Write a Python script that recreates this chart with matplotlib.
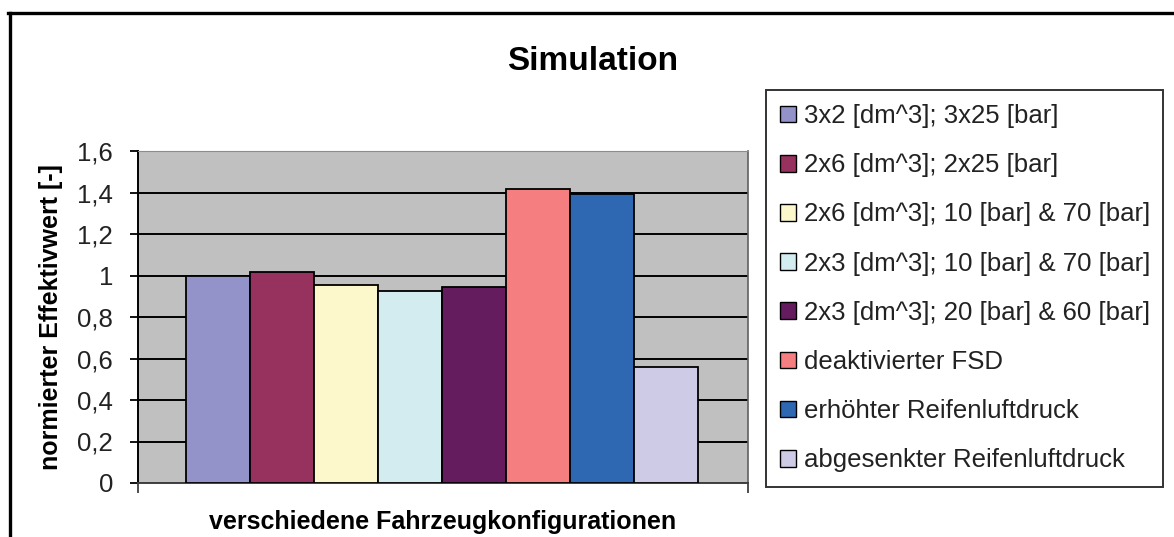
import matplotlib
matplotlib.use("Agg")
import matplotlib.pyplot as plt
from matplotlib.lines import Line2D
from matplotlib.patches import Patch

plt.rcParams['font.family'] = ['Liberation Sans', 'DejaVu Sans']

configs = [
    "3x2 [dm^3]; 3x25 [bar]",
    "2x6 [dm^3]; 2x25 [bar]",
    "2x6 [dm^3]; 10 [bar] & 70 [bar]",
    "2x3 [dm^3]; 10 [bar] & 70 [bar]",
    "2x3 [dm^3]; 20 [bar] & 60 [bar]",
    "deaktivierter FSD",
    "erhöhter Reifenluftdruck",
    "abgesenkter Reifenluftdruck",
]
effektivwert = [1.0, 1.016, 0.956, 0.924, 0.944, 1.419, 1.392, 0.559]
bar_colours = ['#9393C9', '#97325F', '#FCF8CC', '#D2ECF0',
               '#651C5E', '#F57F80', '#2E67B2', '#CECBE6']
y_ticks = [0, 0.2, 0.4, 0.6, 0.8, 1.0, 1.2, 1.4, 1.6]
y_tick_labels = ['0', '0,2', '0,4', '0,6', '0,8', '1', '1,2', '1,4', '1,6']

W, H = 1174, 537
fig = plt.figure(figsize=(W / 100, H / 100), dpi=100)
fig.patch.set_facecolor('white')

# plot area in pixel coords
ax = fig.add_axes([138 / W, 1 - 483 / H, 610 / W, 332 / H])
ax.set_facecolor('#C0C0C0')

xs = list(range(len(effektivwert)))
ax.bar(xs, effektivwert, width=1.0, color=bar_colours,
       edgecolor='black', linewidth=1.3, zorder=3)

ax.set_ylim(0, 1.6)
ax.set_xlim(-1.25, 8.28)
ax.set_yticks(y_ticks)
ax.set_yticklabels(y_tick_labels)
ax.yaxis.grid(True, color='black', linewidth=1.4, zorder=1)
ax.set_axisbelow(True)
ax.set_xticks([-1.25, 8.28])
ax.set_xticklabels([])

ax.tick_params(axis='y', direction='out', length=6, width=1.3,
               labelsize=18.5, pad=12, colors='black')
ax.tick_params(axis='x', direction='out', length=7, width=1.3,
               color='#404040')
for lbl in ax.get_yticklabels():
    lbl.set_color('#222222')

ax.spines['left'].set_color('black')
ax.spines['left'].set_linewidth(1.4)
ax.spines['bottom'].set_color('#404040')
ax.spines['bottom'].set_linewidth(1.4)
ax.spines['top'].set_color('#8C8C8C')
ax.spines['right'].set_color('#606060')
ax.spines['right'].set_linewidth(1.2)

ax.set_ylabel('normierter Effektivwert [-]', fontsize=18, fontweight='bold',
              labelpad=10)
ax.set_xlabel('verschiedene Fahrzeugkonfigurationen', fontsize=18,
              fontweight='bold', labelpad=9)

fig.text(593 / W, 1 - 61 / H, 'Simulation', fontsize=24, fontweight='bold',
         ha='center', va='center')

handles = [Patch(facecolor=c, edgecolor='black', linewidth=1.0)
           for c in bar_colours]
leg = ax.legend(handles, configs, loc='upper left',
                bbox_to_anchor=(766 / W, 1 - 488 / H, 397 / W, 398 / H),
                bbox_transform=fig.transFigure, mode='expand',
                borderaxespad=0, fontsize=18.5, fancybox=False,
                frameon=True, labelspacing=0.98, borderpad=0.55,
                handlelength=0.62, handleheight=0.62, handletextpad=0.31)
frame = leg.get_frame()
frame.set_edgecolor('#333333')
frame.set_linewidth(1.4)
frame.set_facecolor('white')
frame.set_alpha(1)
for t in leg.get_texts():
    t.set_color('#222222')

# outer chart border (top and left edges)
fig.add_artist(Line2D([8 / W, 1], [1 - 13 / H, 1 - 13 / H],
                      transform=fig.transFigure, color='black', linewidth=2.4))
fig.add_artist(Line2D([9.5 / W, 9.5 / W], [0, 1 - 13 / H],
                      transform=fig.transFigure, color='black', linewidth=2.4))

fig.savefig('out.png', dpi=100)
